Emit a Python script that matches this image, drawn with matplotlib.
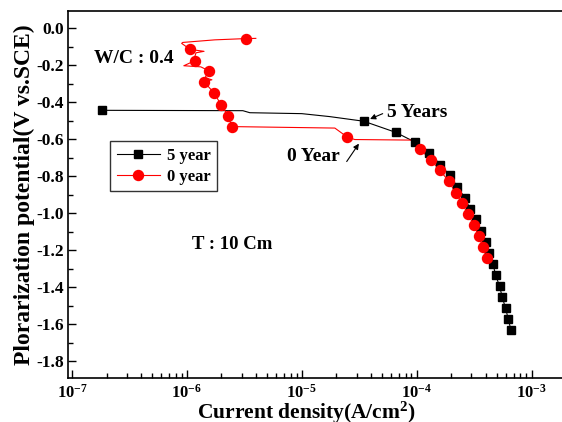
import math
import matplotlib
matplotlib.use("Agg")
import matplotlib.pyplot as plt
from matplotlib.ticker import LogLocator, MultipleLocator, FixedLocator, NullFormatter

plt.rcParams['font.family'] = ['Liberation Serif', 'DejaVu Serif']
plt.rcParams['font.weight'] = 'bold'
plt.rcParams['mathtext.fontset'] = 'custom'
plt.rcParams['mathtext.rm'] = 'Liberation Serif:bold'
plt.rcParams['mathtext.bf'] = 'Liberation Serif:bold'
plt.rcParams['mathtext.it'] = 'Liberation Serif:bold'
plt.rcParams['mathtext.default'] = 'bf'

# ---- data: 5 year (markers) ----
y5_i = [1.82e-7, 3.46e-5, 6.56e-5, 9.75e-5, 1.28e-4, 1.61e-4, 1.94e-4, 2.26e-4,
        2.63e-4, 2.93e-4, 3.26e-4, 3.60e-4, 3.98e-4, 4.26e-4, 4.61e-4, 4.87e-4,
        5.27e-4, 5.56e-4, 5.94e-4, 6.27e-4, 6.60e-4]
y5_e = [-0.444, -0.503, -0.563, -0.617, -0.676, -0.737, -0.796, -0.857,
        -0.918, -0.980, -1.033, -1.094, -1.156, -1.217, -1.274, -1.335,
        -1.396, -1.454, -1.515, -1.572, -1.630]
# 5 year raw trace (line)
y5_line_i = [1.82e-7, 3.07e-6, 3.53e-6, 1.0e-5, 1.75e-5, 3.46e-5, 6.56e-5, 9.75e-5] + y5_i[4:]
y5_line_e = [-0.444, -0.446, -0.457, -0.462, -0.478, -0.503, -0.563, -0.617] + y5_e[4:]

# ---- data: 0 year (markers) ----
y0_i = [3.30e-6, 1.07e-6, 1.18e-6, 1.55e-6, 1.41e-6, 1.73e-6, 1.98e-6, 2.29e-6,
        2.46e-6, 2.48e-5, 1.06e-4, 1.32e-4, 1.59e-4, 1.90e-4, 2.18e-4, 2.49e-4,
        2.79e-4, 3.15e-4, 3.46e-4, 3.77e-4, 4.09e-4]
y0_e = [-0.056, -0.115, -0.175, -0.230, -0.289, -0.352, -0.413, -0.473,
        -0.532, -0.588, -0.652, -0.710, -0.768, -0.827, -0.890, -0.947,
        -1.006, -1.064, -1.123, -1.184, -1.245]
# 0 year raw trace (line)
y0_line_i = [3.98e-6, 3.30e-6, 1.75e-6, 9.2e-7, 9.0e-7, 1.07e-6, 1.41e-6, 1.20e-6,
             1.17e-6, 1.18e-6, 9.4e-7, 1.32e-6, 1.55e-6, 1.44e-6, 1.65e-6, 1.41e-6,
             1.73e-6, 1.98e-6, 2.29e-6, 2.46e-6, 1.94e-5, 2.48e-5, 2.89e-5, 9.0e-5] + y0_i[10:]
y0_line_e = [-0.055, -0.056, -0.063, -0.077, -0.082, -0.115, -0.125, -0.133,
             -0.155, -0.175, -0.203, -0.209, -0.230, -0.268, -0.279, -0.289,
             -0.352, -0.413, -0.473, -0.532, -0.540, -0.588, -0.602, -0.605] + y0_e[10:]

y_ticks = [0.0, -0.2, -0.4, -0.6, -0.8, -1.0, -1.2, -1.4, -1.6, -1.8]
x_ticks = [1e-7, 1e-6, 1e-5, 1e-4, 1e-3]

fig = plt.figure(figsize=(5.62, 4.22), dpi=100)
ax = fig.add_axes([68/562, 1-378.3/422, 1-68/562, (378.3-11)/422])

ax.plot(y5_line_i, y5_line_e, color='black', lw=0.8, zorder=2)
ax.plot(y0_line_i, y0_line_e, color='red', lw=0.8, zorder=3)
ax.plot(y5_i, y5_e, 's', color='black', ms=6.3, zorder=4)
ax.plot(y0_i, y0_e, 'o', color='red', ms=7.2, zorder=5)

# legend proxies
ax.plot([], [], 's-', color='black', ms=6.3, lw=0.8, label='5 year')
ax.plot([], [], 'o-', color='red', ms=7.2, lw=0.8, label='0 year')

ax.set_xscale('log')
ax.set_xlim(10**-7.035, 10**-2.735)
ax.set_ylim(-1.893, 0.093)

ax.xaxis.set_major_locator(FixedLocator(x_ticks))
ax.xaxis.set_minor_locator(LogLocator(base=10, subs=range(2, 10)))
ax.xaxis.set_minor_formatter(NullFormatter())
ax.yaxis.set_major_locator(FixedLocator(y_ticks))
ax.yaxis.set_minor_locator(MultipleLocator(0.1))
ax.set_yticklabels([f"{v:.1f}" for v in y_ticks], fontsize=12.5, fontweight='bold')
ax.set_xticklabels([r"$10^{%d}$" % int(round(math.log10(v))) for v in x_ticks], fontsize=12)

ax.tick_params(which='major', direction='in', length=6, width=1, top=False, right=False, pad=4)
ax.tick_params(which='minor', direction='in', length=3.5, width=1, top=False, right=False)
ax.tick_params(axis='y', which='major', pad=3)
for s in ['left', 'bottom', 'top']:
    ax.spines[s].set_linewidth(1.2)
ax.spines['right'].set_visible(False)

ax.set_xlabel(r"Current density(A/cm$^{2}$)", fontsize=15.5, fontweight='bold')
ax.xaxis.set_label_coords(0.482, -0.058)
ax.set_ylabel("Plorarization potential(V vs.SCE)", fontsize=17, fontweight='bold', labelpad=1)

ax.text(0.053, 0.87, "W/C : 0.4", transform=ax.transAxes, fontsize=14, fontweight='bold', va='center')
ax.text(0.25, 0.363, "T : 10 Cm", transform=ax.transAxes, fontsize=13.5, fontweight='bold', va='center')

arrow = dict(arrowstyle='-|>', color='black', lw=0.8, mutation_scale=8, shrinkA=0, shrinkB=1)
ax.text(5.48e-5, -0.454, "5 Years", fontsize=14, fontweight='bold', va='center', ha='left')
ax.annotate("", xy=(3.83e-5, -0.494), xytext=(5.06e-5, -0.462), arrowprops=arrow)
ax.text(2.14e-5, -0.694, "0 Year", fontsize=14, fontweight='bold', va='center', ha='right')
ax.annotate("", xy=(3.19e-5, -0.618), xytext=(2.46e-5, -0.721), arrowprops=arrow)

leg = ax.legend(loc='upper left', bbox_to_anchor=(0.085, 0.646), borderaxespad=0,
                fontsize=12, frameon=True, fancybox=False, edgecolor='black',
                handlelength=2.6, borderpad=0.4, labelspacing=0.3, handletextpad=0.4)
leg.get_frame().set_linewidth(1.0)

fig.savefig("out.png", dpi=100)
